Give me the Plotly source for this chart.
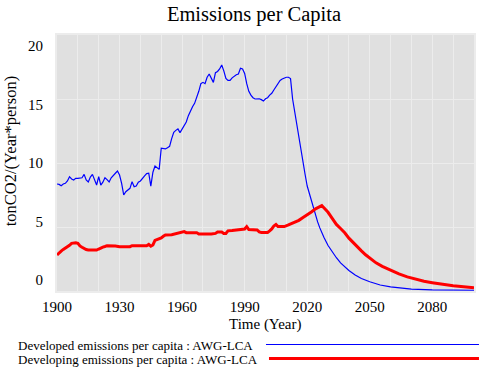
import plotly.graph_objects as go

# ---------------- data ----------------
dev_years = [1900, 1901, 1902, 1903, 1904, 1905, 1906, 1907, 1908, 1909, 1910, 1911, 1912, 1913, 1914,
             1915, 1916, 1917, 1918, 1919, 1920, 1921, 1922, 1923, 1924, 1925, 1926, 1927, 1928, 1929,
             1930, 1931, 1932, 1933, 1934, 1935, 1936, 1937, 1938, 1939, 1940, 1941, 1942, 1943, 1944,
             1945, 1946, 1947, 1948, 1949, 1950, 1951, 1952, 1953, 1954, 1955, 1956, 1957, 1958, 1959,
             1960, 1961, 1962, 1963, 1964, 1965, 1966, 1967, 1968, 1969, 1970, 1971, 1972, 1973, 1974,
             1975, 1976, 1977, 1978, 1979, 1980, 1981, 1982, 1983, 1984, 1985, 1986, 1987, 1988, 1989,
             1990, 1991, 1992, 1993, 1994, 1995, 1996, 1997, 1998, 1999, 2000, 2001, 2002, 2003, 2004,
             2005, 2006, 2007, 2008, 2009, 2010, 2011, 2012, 2013, 2014, 2015, 2016, 2017, 2018, 2019,
             2020, 2021, 2022, 2023, 2024, 2025, 2026, 2027, 2028, 2030, 2032, 2034, 2036, 2038, 2040,
             2043, 2046, 2050, 2055, 2060, 2065, 2070, 2080, 2090, 2100]
dev_values = [8.36, 8.33, 8.23, 8.36, 8.41, 8.6, 8.93, 8.75, 8.67, 8.8, 8.8, 8.8, 8.85, 9.11, 8.67,
              8.52, 8.9, 9.11, 8.67, 8.28, 8.93, 8.28, 8.5, 8.85, 8.7, 8.52, 8.85, 9.06, 9.2, 9.37,
              9.06, 8.41, 7.5, 7.76, 7.9, 8.02, 8.54, 8.15, 8.2, 8.5, 8.6, 8.85, 9.0, 9.17, 9.2,
              8.2, 9.28, 9.77, 9.6, 9.5, 11.15, 11.1, 11.1, 11.2, 11.3, 11.9, 12.4, 12.55, 12.66, 12.37,
              12.66, 12.84, 13.2, 13.7, 14.1, 14.4, 14.66, 15.1, 15.6, 16.2, 16.3, 16.2, 16.7, 16.95, 16.6,
              16.3, 17.06, 17.15, 17.35, 17.66, 17.2, 16.6, 16.45, 16.45, 16.65, 16.8, 16.9, 16.95, 17.4, 17.35,
              17.0, 16.2, 15.6, 15.3, 15.1, 15.0, 15.0, 15.02, 14.95, 14.84, 15.02, 15.1, 15.3, 15.45, 15.7,
              15.96, 16.25, 16.45, 16.56, 16.65, 16.7, 16.7, 16.6, 15.0, 14.0, 12.8, 12.0, 11.0, 9.9, 9.1,
              8.2, 7.6, 7.0, 6.4, 5.85, 5.4, 4.95, 4.55, 4.2, 3.55, 3.05, 2.6, 2.2, 1.9, 1.6,
              1.25, 0.98, 0.72, 0.47, 0.32, 0.22, 0.15, 0.09, 0.07, 0.06]

dvg_years = [1900, 1901, 1902, 1903, 1904, 1905, 1906, 1907, 1908, 1909, 1910, 1911, 1912, 1913, 1914,
             1915, 1919, 1920, 1921, 1922, 1923, 1924, 1928, 1930, 1935, 1936, 1943, 1944, 1945, 1946,
             1947, 1949, 1950, 1951, 1952, 1955, 1957, 1959, 1960, 1961, 1962, 1967, 1968, 1972, 1974,
             1976, 1977, 1979, 1980, 1981, 1982, 1984, 1987, 1988, 1990, 1991, 1992, 1996, 1997, 1998,
             2001, 2002, 2003, 2004, 2005, 2006, 2009, 2011, 2012, 2014, 2016, 2018, 2020, 2022, 2024,
             2026, 2027, 2028, 2030, 2032, 2034, 2036, 2038, 2040, 2042, 2044, 2046, 2048, 2050, 2053,
             2056, 2060, 2064, 2068, 2072, 2076, 2080, 2085, 2090, 2095, 2100]
dvg_values = [2.81, 3.0, 3.12, 3.25, 3.35, 3.45, 3.57, 3.72, 3.75, 3.77, 3.72, 3.52, 3.42, 3.3, 3.24,
              3.2, 3.2, 3.28, 3.38, 3.43, 3.48, 3.54, 3.52, 3.46, 3.46, 3.54, 3.54, 3.64, 3.5, 3.6,
              3.95, 4.06, 4.15, 4.28, 4.38, 4.4, 4.48, 4.56, 4.6, 4.64, 4.56, 4.56, 4.45, 4.42, 4.45,
              4.5, 4.61, 4.61, 4.5, 4.5, 4.7, 4.72, 4.77, 4.84, 4.84, 5.03, 4.8, 4.77, 4.62, 4.58,
              4.58, 4.7, 4.85, 5.08, 5.2, 5.03, 5.03, 5.16, 5.22, 5.36, 5.52, 5.75, 5.95, 6.18, 6.42,
              6.62, 6.67, 6.5, 6.15, 5.68, 5.2, 4.88, 4.55, 4.13, 3.78, 3.45, 3.14, 2.83, 2.55, 2.2,
              1.93, 1.62, 1.33, 1.1, 0.92, 0.76, 0.65, 0.52, 0.41, 0.33, 0.26]

x_tick_vals = [1900, 1930, 1960, 1990, 2020, 2050, 2080]
x_tick_text = ["1900", "1930", "1960", "1990", "2020", "2050", "2080"]
y_tick_vals = [0, 5, 10, 15, 20]
y_tick_text = ["0", "5", "10", "15", "20"]

series_names = ["Developed emissions per capita : AWG-LCA",
                "Developing emissions per capita : AWG-LCA"]

# ---------------- layout geometry ----------------
W, H = 486, 369
L, R, T, B = 57, 10, 35, 78
PW, PH = W - L - R, H - T - B
FONT = "Liberation Serif, Times New Roman, serif"
BG = "#e0e0e0"
GRID = "#ececec"


def px_x(px):
    return (px - L) / PW


def px_y(py):
    return (H - B - py) / PH


fig = go.Figure()
fig.add_trace(go.Scatter(x=dev_years, y=dev_values, mode="lines",
                         line=dict(color="#0000ff", width=1.2),
                         showlegend=False, hoverinfo="skip"))
fig.add_trace(go.Scatter(x=dvg_years, y=dvg_values, mode="lines",
                         line=dict(color="#ff0000", width=3),
                         showlegend=False, hoverinfo="skip"))
# carrier for the label axis
fig.add_trace(go.Scatter(x=[None], y=[None], yaxis="y2", mode="lines",
                         showlegend=False, hoverinfo="skip"))

fig.update_layout(
    width=W, height=H,
    margin=dict(l=L, r=R, t=T, b=B, pad=0),
    paper_bgcolor="white", plot_bgcolor=BG,
    font=dict(family=FONT, color="black", size=14),
    title=dict(text="Emissions per Capita", font=dict(family=FONT, size=20.5, color="black"),
               x=254 / W, xref="container", xanchor="center",
               y=1 - 14 / H, yref="container", yanchor="middle"),
    xaxis=dict(range=[1900, 2100], tickvals=x_tick_vals, ticktext=x_tick_text,
               showgrid=True, gridcolor=GRID, gridwidth=1,
               minor=dict(dtick=10, tick0=1900, showgrid=True, gridcolor=GRID, gridwidth=1),
               zeroline=False, showline=True, linecolor=GRID, linewidth=2, mirror=True,
               ticks="", tickfont=dict(family=FONT, size=15, color="black"),
               ticklabelstandoff=1),
    yaxis=dict(range=[0, 20], tickvals=[5, 10, 15], showticklabels=False,
               showgrid=True, gridcolor=GRID, gridwidth=1,
               zeroline=False, showline=True, linecolor=GRID, linewidth=2, mirror=True,
               ticks=""),
    yaxis2=dict(overlaying="y", side="left", range=[-0.93, 20.92],
                tickvals=y_tick_vals, ticktext=y_tick_text,
                showgrid=False, zeroline=False, showline=False, ticks="",
                tickfont=dict(family=FONT, size=15, color="black"),
                ticklabelstandoff=13),
    showlegend=False,
)

annotations = [
    dict(text="tonCO2/(Year*person)", textangle=-90, xref="paper", yref="paper",
         x=px_x(10), y=px_y(151), xanchor="center", yanchor="middle", showarrow=False,
         font=dict(family=FONT, size=16.5, color="black")),
    dict(text="Time (Year)", xref="paper", yref="paper",
         x=px_x(266), y=px_y(324), xanchor="center", yanchor="middle", showarrow=False,
         font=dict(family=FONT, size=15, color="black")),
]
legend_rows = [(345, "#0000ff", 1, 267), (359, "#ff0000", 3, 270)]
shapes = []
for name, (ry, col, lw, x0) in zip(series_names, legend_rows):
    annotations.append(dict(text=name, xref="paper", yref="paper", x=px_x(16), y=px_y(ry),
                            xanchor="left", yanchor="middle", showarrow=False,
                            font=dict(family=FONT, size=13, color="black")))
    shapes.append(dict(type="line", xref="paper", yref="paper",
                       x0=px_x(x0), x1=px_x(481), y0=px_y(ry - 0.5), y1=px_y(ry - 0.5),
                       line=dict(color=col, width=lw)))
fig.update_layout(annotations=annotations, shapes=shapes)

fig.write_html("out.html", config={"displayModeBar": False},
               post_script="document.body.style.margin='0';")
